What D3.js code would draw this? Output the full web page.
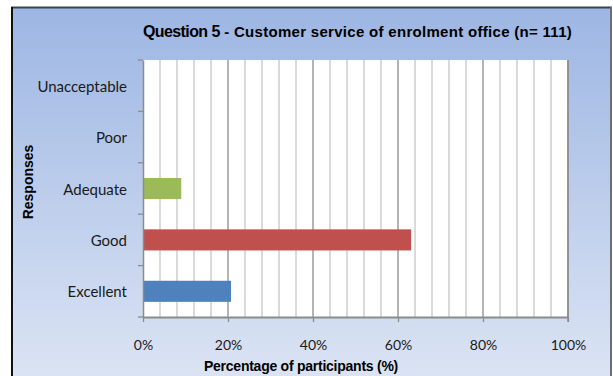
<!DOCTYPE html>
<html>
<head>
<meta charset="utf-8">
<script src="https://cdn.jsdelivr.net/npm/d3@7"></script>
<style>
  html, body { margin: 0; padding: 0; background: #ffffff; }
  svg { display: block; }
</style>
</head>
<body>
<svg id="chart" width="613" height="376"></svg>
<script>
// Response categories, listed top to bottom
const categories = ["Unacceptable", "Poor", "Adequate", "Good", "Excellent"];
// Share of participants per response (%)
const values = [0, 0, 9.0, 63.1, 20.7];
const barColors = ["#4F81BD", "#4F81BD", "#9BBB59", "#C0504D", "#4F81BD"];
// Axis ticks
const majorTicks = [0, 20, 40, 60, 80, 100];
const minorTicks = d3.range(0, 101, 4);
const tickLabels = ["0%", "20%", "40%", "60%", "80%", "100%"];

const svg = d3.select("#chart");

// Background panel with vertical gradient
const defs = svg.append("defs");
const grad = defs.append("linearGradient")
  .attr("id", "bg").attr("x1", 0).attr("y1", 0).attr("x2", 0).attr("y2", 1);
grad.append("stop").attr("offset", "0%").attr("stop-color", "#9DB6E3");
grad.append("stop").attr("offset", "100%").attr("stop-color", "#DDE5F4");

svg.append("rect")
  .attr("x", 12).attr("y", 8).attr("width", 599).attr("height", 380)
  .attr("fill", "url(#bg)");
// frame edges
svg.append("line").attr("x1", 11).attr("x2", 612).attr("y1", 7.5).attr("y2", 7.5)
  .attr("stroke", "#3b4249").attr("stroke-width", 2);
svg.append("line").attr("x1", 12).attr("x2", 12).attr("y1", 7).attr("y2", 376)
  .attr("stroke", "#111111").attr("stroke-width", 2);
svg.append("line").attr("x1", 611).attr("x2", 611).attr("y1", 7).attr("y2", 376)
  .attr("stroke", "#6b6e72").attr("stroke-width", 2);

const plot = { left: 143, right: 568, top: 60, bottom: 317 };

const x = d3.scaleLinear().domain([0, 100]).range([plot.left, plot.right]);
const y = d3.scaleBand().domain(categories).range([plot.top, plot.bottom]).paddingInner(0.59).paddingOuter(0.295);
const yb = d3.scaleBand().domain(categories).range([plot.top, plot.bottom]);

// Plot area
svg.append("rect")
  .attr("x", plot.left).attr("y", plot.top)
  .attr("width", plot.right - plot.left).attr("height", plot.bottom - plot.top)
  .attr("fill", "#ffffff");

// Gridlines
svg.append("g").selectAll("line")
  .data(minorTicks.filter(d => d > 0 && d % 20 !== 0))
  .join("line")
  .attr("x1", d => x(d)).attr("x2", d => x(d))
  .attr("y1", plot.top).attr("y2", plot.bottom)
  .attr("stroke", "#c6c6c6").attr("stroke-width", 1.3);
svg.append("g").selectAll("line")
  .data(majorTicks.filter(d => d > 0))
  .join("line")
  .attr("x1", d => x(d)).attr("x2", d => x(d))
  .attr("y1", plot.top).attr("y2", plot.bottom)
  .attr("stroke", "#8c8c8c").attr("stroke-width", 1.3);

// Bars
svg.append("g").selectAll("rect")
  .data(categories)
  .join("rect")
  .attr("x", x(0))
  .attr("y", d => y(d))
  .attr("width", (d, i) => x(values[i]) - x(0))
  .attr("height", y.bandwidth())
  .attr("fill", (d, i) => barColors[i]);

// Y axis
const yAxis = svg.append("g")
  .attr("transform", `translate(${plot.left},0)`)
  .call(d3.axisLeft(yb).tickSize(0).tickPadding(16));
yAxis.select(".domain").attr("stroke", "#8c8c8c").attr("stroke-width", 1.5);
yAxis.selectAll("text")
  .attr("font-family", "Lato, 'Open Sans', sans-serif")
  .attr("font-size", 15).attr("fill", "#1a1a1a")
  .attr("dy", "0.4em");
// category boundary ticks
svg.append("g").selectAll("line")
  .data(d3.range(categories.length + 1))
  .join("line")
  .attr("x1", plot.left - 5).attr("x2", plot.left)
  .attr("y1", i => plot.top + i * yb.step()).attr("y2", i => plot.top + i * yb.step())
  .attr("stroke", "#8c8c8c").attr("stroke-width", 1.3);

// X axis
const xAxis = svg.append("g")
  .attr("transform", `translate(0,${plot.bottom})`)
  .call(d3.axisBottom(x).tickValues(majorTicks)
    .tickFormat((d, i) => tickLabels[i]).tickSize(5).tickSizeOuter(0).tickPadding(18));
xAxis.select(".domain").attr("stroke", "#8c8c8c").attr("stroke-width", 2);
xAxis.selectAll(".tick line").attr("stroke", "#8c8c8c").attr("stroke-width", 1.3);
xAxis.selectAll("text")
  .attr("font-family", "Lato, 'Open Sans', sans-serif")
  .attr("font-size", 14).attr("fill", "#1a1a1a");

// Right plot border
svg.append("line")
  .attr("x1", plot.right).attr("x2", plot.right)
  .attr("y1", plot.top).attr("y2", plot.bottom + 5)
  .attr("stroke", "#8c8c8c").attr("stroke-width", 1.5);

// Title
const title = svg.append("text")
  .attr("x", 143).attr("y", 37)
  .attr("font-family", "'Liberation Sans', Arial, sans-serif")
  .attr("font-weight", "bold").attr("fill", "#000");
title.append("tspan").attr("font-size", 16).attr("letter-spacing", -0.6).text("Question 5");
title.append("tspan").attr("font-size", 15).attr("letter-spacing", 0.3)
  .text(" - Customer service of enrolment office (n= 111)");

// Axis titles
svg.append("text")
  .attr("transform", "translate(33,182) rotate(-90)")
  .attr("text-anchor", "middle")
  .attr("font-family", "'Liberation Sans', Arial, sans-serif")
  .attr("font-weight", "bold").attr("font-size", 14).attr("fill", "#000")
  .text("Responses");

svg.append("text")
  .attr("x", 301).attr("y", 371)
  .attr("text-anchor", "middle")
  .attr("font-family", "'Liberation Sans', Arial, sans-serif")
  .attr("font-weight", "bold").attr("font-size", 14).attr("letter-spacing", -0.25)
  .attr("fill", "#000")
  .text("Percentage of participants (%)");
</script>
</body>
</html>
